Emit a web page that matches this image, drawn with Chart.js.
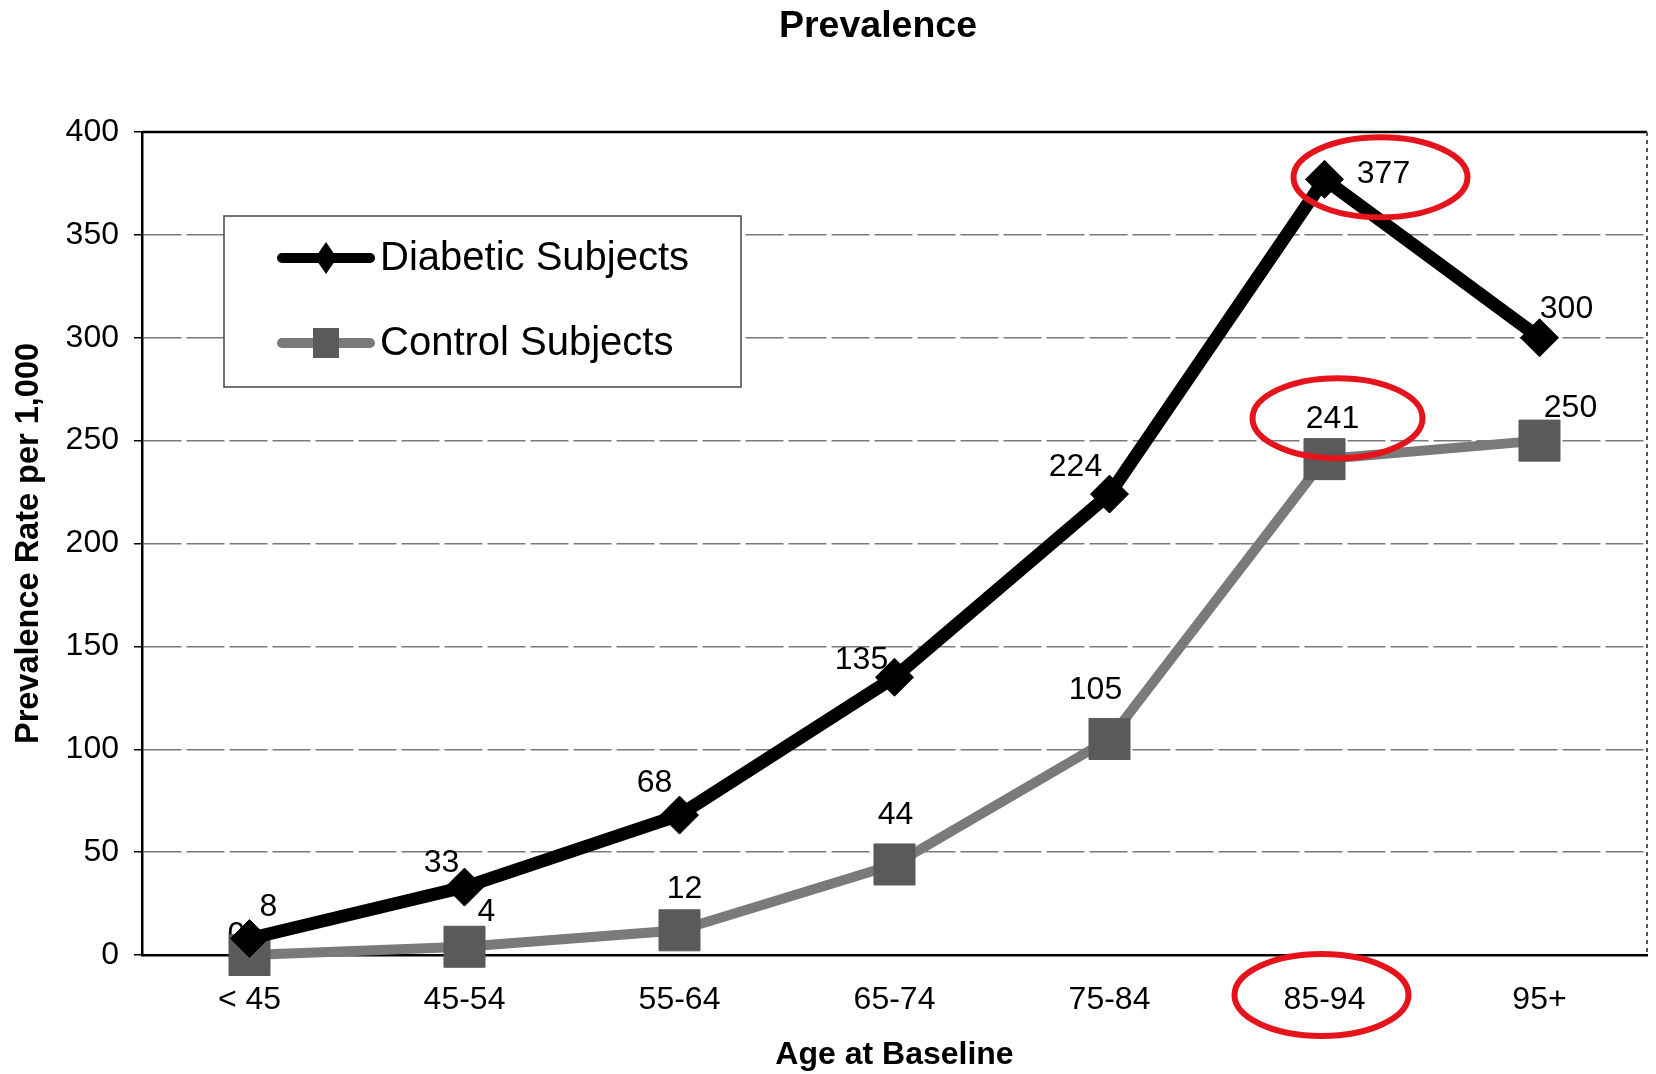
<!DOCTYPE html>
<html>
<head>
<meta charset="utf-8">
<title>Prevalence</title>
<script src="https://cdn.jsdelivr.net/npm/chart.js@4"></script>
<style>
  html, body { margin: 0; padding: 0; background: #fff; }
  canvas { display: block; }
</style>
</head>
<body>
<canvas id="prevalence-chart" width="1656" height="1074"></canvas>
<script>
// Age groups and prevalence rates per 1,000
const ageGroups = ['< 45', '45-54', '55-64', '65-74', '75-84', '85-94', '95+'];
const diabeticRates = [8, 33, 68, 135, 224, 377, 300];
const controlRates = [0, 4, 12, 44, 105, 241, 250];
const yTickStep = 50;
const yMax = 400;

// where each value label sits relative to its point (px)
const diabeticLabelShift = [[19, -31], [-23, -24], [-25, -32], [-33, -17], [-34, -27], [59, -5], [27, -29]];
const controlLabelShift = [[-13, -20], [22, -35], [5, -41], [1, -49], [-14, -49], [8, -40], [31, -32]];

const FONT = '"Liberation Sans", Arial, Helvetica, sans-serif';
const CONTROL_LINE = '#7a7a7a';
const CONTROL_MARK = '#5a5a5a';

// value labels go under the lines, like the original Excel chart
const valueLabels = {
    id: 'valueLabels',
    beforeDatasetsDraw(chart) {
        const ctx = chart.ctx;
        ctx.save();
        ctx.font = '32px ' + FONT;
        ctx.fillStyle = '#000';
        ctx.textAlign = 'center';
        ctx.textBaseline = 'middle';
        [[0, diabeticRates, diabeticLabelShift], [1, controlRates, controlLabelShift]].forEach(([i, values, shift]) => {
            const meta = chart.getDatasetMeta(i);
            meta.data.forEach((pt, j) => {
                ctx.fillText(String(values[j]), pt.x + shift[j][0], pt.y + shift[j][1]);
            });
        });
        ctx.restore();
    }
};

// frame, legend box and title
const decorations = {
    id: 'decorations',
    beforeDatasetsDraw(chart) {
        const ctx = chart.ctx;
        const a = chart.chartArea;
        ctx.save();

        // top edge solid, right edge broken
        ctx.strokeStyle = '#000';
        ctx.lineWidth = 2.5;
        ctx.beginPath();
        ctx.moveTo(a.left, a.top);
        ctx.lineTo(a.right, a.top);
        ctx.stroke();
        ctx.strokeStyle = '#555';
        ctx.lineWidth = 2;
        ctx.setLineDash([4, 4]);
        ctx.beginPath();
        ctx.moveTo(a.right, a.top);
        ctx.lineTo(a.right, a.bottom);
        ctx.stroke();
        ctx.setLineDash([]);

        // legend
        const lx = 224, ly = 216, lw = 517, lh = 171;
        ctx.fillStyle = '#fff';
        ctx.fillRect(lx, ly, lw, lh);
        ctx.strokeStyle = '#444';
        ctx.lineWidth = 1.5;
        ctx.strokeRect(lx, ly, lw, lh);

        const rows = [
            { text: 'Diabetic Subjects', y: 258 },
            { text: 'Control Subjects', y: 343 }
        ];
        // diabetic sample
        ctx.strokeStyle = '#000';
        ctx.lineWidth = 10;
        ctx.lineCap = 'round';
        ctx.beginPath();
        ctx.moveTo(282, rows[0].y);
        ctx.lineTo(370, rows[0].y);
        ctx.stroke();
        ctx.fillStyle = '#000';
        ctx.beginPath();
        ctx.moveTo(326, rows[0].y - 16);
        ctx.lineTo(337, rows[0].y);
        ctx.lineTo(326, rows[0].y + 16);
        ctx.lineTo(315, rows[0].y);
        ctx.closePath();
        ctx.fill();
        // control sample
        ctx.strokeStyle = CONTROL_LINE;
        ctx.beginPath();
        ctx.moveTo(282, rows[1].y);
        ctx.lineTo(370, rows[1].y);
        ctx.stroke();
        ctx.fillStyle = CONTROL_MARK;
        ctx.fillRect(313, rows[1].y - 15, 26, 30);

        ctx.fillStyle = '#000';
        ctx.font = '40px ' + FONT;
        ctx.textAlign = 'left';
        ctx.textBaseline = 'middle';
        rows.forEach(r => ctx.fillText(r.text, 380, r.y + 1));

        // title
        ctx.font = 'bold 37.5px ' + FONT;
        ctx.textAlign = 'center';
        ctx.fillText('Prevalence', 878, 27);
        ctx.restore();
    }
};

// red rings drawn round the 85-94 figures
const highlights = {
    id: 'highlights',
    afterDatasetsDraw(chart) {
        const ctx = chart.ctx;
        const x = chart.scales.x;
        const y = chart.scales.y;
        const col = ageGroups.indexOf('85-94');
        const cx = x.getPixelForValue(col);
        const rings = [
            { x: cx + 56, y: y.getPixelForValue(diabeticRates[col]) - 2, rx: 87, ry: 40 },
            { x: cx + 13, y: y.getPixelForValue(controlRates[col]) - 41, rx: 85, ry: 40 },
            { x: cx - 3, y: x.bottom - 79, rx: 87, ry: 41 }
        ];
        ctx.save();
        ctx.strokeStyle = '#e5141c';
        ctx.lineWidth = 6;
        rings.forEach(r => {
            ctx.beginPath();
            ctx.ellipse(r.x, r.y, r.rx, r.ry, 0, 0, Math.PI * 2);
            ctx.stroke();
        });
        ctx.restore();
    }
};

document.addEventListener('DOMContentLoaded', function () {
    const canvas = document.getElementById('prevalence-chart').getContext('2d');
    new Chart(canvas, {
        type: 'line',
        data: {
            labels: ageGroups,
            datasets: [
                {
                    label: 'Diabetic Subjects',
                    data: diabeticRates,
                    borderColor: '#000',
                    borderWidth: 13,
                    pointStyle: 'rectRot',
                    pointRadius: 19,
                    pointBackgroundColor: '#000',
                    pointBorderColor: '#000',
                    pointBorderWidth: 1,
                    tension: 0,
                    clip: false
                },
                {
                    label: 'Control Subjects',
                    data: controlRates,
                    borderColor: CONTROL_LINE,
                    borderWidth: 10,
                    pointStyle: 'rect',
                    pointRadius: 29,
                    pointBackgroundColor: CONTROL_MARK,
                    pointBorderColor: CONTROL_MARK,
                    pointBorderWidth: 1,
                    tension: 0,
                    clip: false
                }
            ]
        },
        options: {
            responsive: false,
            animation: false,
            layout: { autoPadding: false, padding: { top: 132, right: 9, left: 0, bottom: 0 } },
            plugins: {
                legend: { display: false },
                tooltip: { enabled: false }
            },
            scales: {
                x: {
                    offset: true,
                    grid: { display: false, drawTicks: false },
                    border: { display: true, color: '#000', width: 2.5 },
                    ticks: { color: '#000', font: { family: FONT, size: 32 }, padding: 26, maxRotation: 0 },
                    title: {
                        display: true,
                        text: 'Age at Baseline',
                        color: '#000',
                        font: { family: FONT, size: 32, weight: 'bold' },
                        padding: { top: 0, bottom: 0 }
                    },
                    afterFit(scale) {
                        scale.height = 119;
                        // labels sit in the offset gaps, so no side padding is needed
                        scale.paddingLeft = 0;
                        scale.paddingRight = 0;
                    }
                },
                y: {
                    min: 0,
                    max: yMax,
                    grid: {
                        color: ctx => (ctx.tick && (ctx.tick.value === 0 || ctx.tick.value === yMax)) ? 'rgba(0,0,0,0)' : '#7a7a7a',
                        lineWidth: 1.5,
                        tickColor: '#000',
                        tickLength: 8,
                        tickWidth: 1.5
                    },
                    border: { display: true, color: '#000', width: 2.5, dash: [38, 5] },
                    ticks: {
                        stepSize: yTickStep,
                        color: '#000',
                        font: { family: FONT, size: 32 },
                        padding: 15
                    },
                    title: {
                        display: true,
                        text: 'Prevalence Rate per 1,000',
                        color: '#000',
                        font: { family: FONT, size: 32.5, weight: 'bold' },
                        padding: { top: 10, bottom: 0 }
                    },
                    afterFit(scale) { scale.width = 142; }
                }
            }
        },
        plugins: [decorations, valueLabels, highlights]
    });
});
</script>
</body>
</html>
